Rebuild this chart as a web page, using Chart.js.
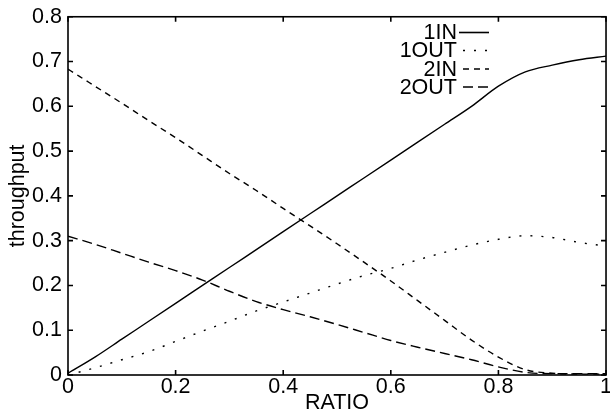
<!DOCTYPE html>
<html>
<head>
<meta charset="utf-8">
<script src="https://cdn.jsdelivr.net/npm/chart.js@4.4.1/dist/chart.umd.min.js"></script>
<style>
  html, body { margin: 0; padding: 0; background: #fff; overflow: hidden; }
  #wrap { width: 613px; height: 414px; }
</style>
</head>
<body>
<div id="wrap"><canvas id="throughputChart" width="613" height="414"></canvas></div>
<script>
// ratio samples along the x axis
const ratio = [0, 0.05, 0.1, 0.15, 0.2, 0.25, 0.3, 0.35, 0.4, 0.45, 0.5,
               0.55, 0.6, 0.65, 0.7, 0.75, 0.8, 0.85, 0.9, 0.95, 1];

// throughput per flow
const in1  = [0.004, 0.040, 0.080, 0.120, 0.160, 0.200, 0.240, 0.280, 0.320, 0.360, 0.400,
              0.440, 0.480, 0.520, 0.560, 0.600, 0.645, 0.677, 0.692, 0.704, 0.712];
const out1 = [0.000, 0.016, 0.034, 0.052, 0.075, 0.098, 0.120, 0.143, 0.163, 0.183, 0.203,
              0.222, 0.238, 0.257, 0.274, 0.290, 0.303, 0.311, 0.307, 0.296, 0.288];
const in2  = [0.683, 0.645, 0.607, 0.568, 0.530, 0.490, 0.450, 0.412, 0.372, 0.333, 0.293,
              0.252, 0.210, 0.166, 0.122, 0.078, 0.040, 0.012, 0.004, 0.002, 0.002];
const out2 = [0.310, 0.292, 0.272, 0.252, 0.233, 0.212, 0.187, 0.164, 0.146, 0.130, 0.113,
              0.095, 0.077, 0.062, 0.048, 0.034, 0.018, 0.006, 0.003, 0.003, 0.003];

const seriesNames = ['1IN', '1OUT', '2IN', '2OUT'];
const seriesValues = [in1, out1, in2, out2];
const seriesDash = [[], [2, 9], [6, 5], [10, 5]];

const FONT = '"Liberation Sans", Arial, Helvetica, sans-serif';
const SIZE = 21.5;
Chart.defaults.font.family = FONT;
Chart.defaults.color = '#000';

const datasets = seriesNames.map((name, k) => ({
    label: name,
    data: ratio.map((r, i) => ({ x: r, y: seriesValues[k][i] })),
    borderColor: '#000',
    borderWidth: 1.4,
    borderDash: seriesDash[k],
    pointRadius: 0,
    fill: false,
    cubicInterpolationMode: 'monotone'
}));

// "0", "0.2", ... "1" without trailing zeros
const plainTick = v => String(Number(v.toFixed(2)));

// box around the plot with inward ticks on every side
const frame = {
    id: 'frame',
    afterDatasetsDraw(chart) {
        const { ctx, chartArea: a, scales } = chart;
        ctx.save();
        ctx.strokeStyle = '#000';
        ctx.lineWidth = 1.6;
        ctx.setLineDash([]);
        ctx.strokeRect(a.left, a.top, a.right - a.left, a.bottom - a.top);
        const len = 5;
        ctx.beginPath();
        scales.x.ticks.forEach(t => {
            const px = scales.x.getPixelForValue(t.value);
            ctx.moveTo(px, a.bottom); ctx.lineTo(px, a.bottom - len);
            ctx.moveTo(px, a.top); ctx.lineTo(px, a.top + len);
        });
        scales.y.ticks.forEach(t => {
            const py = scales.y.getPixelForValue(t.value);
            ctx.moveTo(a.left, py); ctx.lineTo(a.left + len, py);
            ctx.moveTo(a.right, py); ctx.lineTo(a.right - len, py);
        });
        ctx.stroke();
        ctx.restore();
    }
};

// legend: label right-aligned, line sample after it
const keyLegend = {
    id: 'keyLegend',
    afterDraw(chart) {
        const ctx = chart.ctx;
        const textRight = 457, lineStart = 459, lineEnd = 489;
        const rows = [32.5, 50.5, 69, 87];
        ctx.save();
        ctx.font = SIZE + 'px ' + FONT;
        ctx.fillStyle = '#000';
        ctx.textAlign = 'right';
        ctx.textBaseline = 'middle';
        chart.data.datasets.forEach((ds, i) => {
            ctx.fillText(ds.label, textRight, rows[i] + 1);
            ctx.beginPath();
            ctx.setLineDash(ds.borderDash);
            ctx.lineDashOffset = ds.borderDash.length ? -4 : 0;
            ctx.lineWidth = 1.6;
            ctx.strokeStyle = '#000';
            ctx.moveTo(lineStart, rows[i]);
            ctx.lineTo(lineEnd, rows[i]);
            ctx.stroke();
        });
        ctx.restore();
    }
};

new Chart(document.getElementById('throughputChart'), {
    type: 'line',
    data: { datasets: datasets },
    plugins: [frame, keyLegend],
    options: {
        responsive: false,
        animation: false,
        layout: { padding: { top: 16, left: 7, right: 0, bottom: 0 } },
        plugins: {
            legend: { display: false },
            tooltip: { enabled: false }
        },
        scales: {
            x: {
                type: 'linear',
                min: 0,
                max: 1,
                grid: { display: false, drawTicks: false },
                border: { display: false },
                ticks: {
                    stepSize: 0.2,
                    padding: 1,
                    font: { size: SIZE, lineHeight: 1 },
                    callback: plainTick
                },
                title: {
                    display: true,
                    text: 'RATIO',
                    font: { size: SIZE, lineHeight: 1 },
                    padding: { top: 0, bottom: 0 }
                },
                afterFit(scale) { scale.height = 39; }
            },
            y: {
                min: 0,
                max: 0.8,
                grid: { display: false, drawTicks: false },
                border: { display: false },
                ticks: {
                    stepSize: 0.1,
                    padding: 6,
                    font: { size: SIZE, lineHeight: 1 },
                    callback: plainTick
                },
                title: {
                    display: true,
                    text: 'throughput',
                    font: { size: SIZE, lineHeight: 1 },
                    padding: { top: 0, bottom: 0 }
                },
                afterFit(scale) { scale.width = 61; }
            }
        }
    }
});
</script>
</body>
</html>
